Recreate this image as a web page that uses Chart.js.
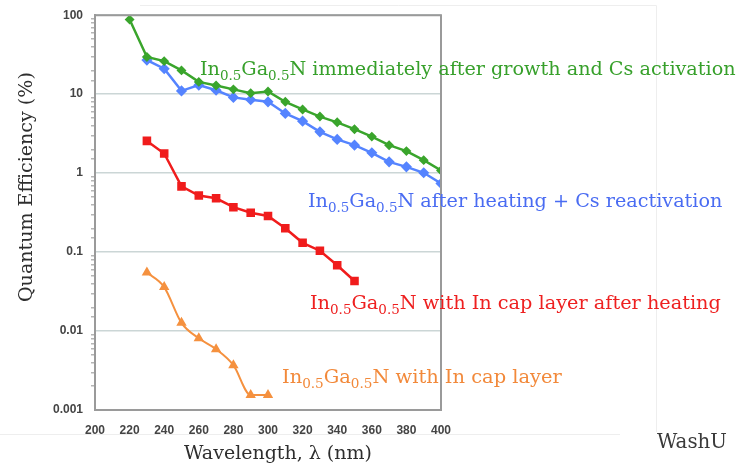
<!DOCTYPE html>
<html><head><meta charset="utf-8">
<script src="https://cdn.jsdelivr.net/npm/chart.js@4/dist/chart.umd.min.js"></script>
<style>html,body{margin:0;padding:0;background:#fff}#wrap{width:737px;height:468px;position:relative}</style>
</head><body><div id="wrap"><canvas id="c" width="737" height="468"></canvas></div>
<script>
// ---- data ----
const wlGrowth = [220,230,240,250,260,270,280,290,300,310,320,330,340,350,360,370,380,390,400];
const qeGrowth = [88,29.6,26.2,20,14.3,12.9,11.5,10.3,10.8,8.0,6.4,5.2,4.4,3.6,2.9,2.26,1.9,1.46,1.08];
const wlReact = [230,240,250,260,270,280,290,300,310,320,330,340,350,360,370,380,390,400];
const qeReact = [27,21,11,13,11.2,9.1,8.5,8.0,5.7,4.55,3.33,2.67,2.26,1.81,1.39,1.2,1.01,0.74];
const wlCapHeat = [230,240,250,260,270,280,290,300,310,320,330,340,350];
const qeCapHeat = [2.56,1.77,0.68,0.52,0.48,0.37,0.315,0.286,0.20,0.131,0.104,0.068,0.043];
const wlCap = [230,240,250,260,270,280,290,300];
const qeCap = [0.055,0.036,0.0127,0.0081,0.0059,0.0037,0.00155,0.00155];
const seriesLabels = [
  'In_{0.5}Ga_{0.5}N immediately after growth and Cs activation',
  'In_{0.5}Ga_{0.5}N after heating + Cs reactivation',
  'In_{0.5}Ga_{0.5}N with In cap layer after heating',
  'In_{0.5}Ga_{0.5}N with In cap layer'
];
const xTicks = [200,220,240,260,280,300,320,340,360,380,400];
const yTickLabels = ['0.001','0.01','0.1','1','10','100'];
const xTitle = 'Wavelength, λ (nm)';
const yTitle = 'Quantum Efficiency (%)';
const credit = 'WashU';

// ---- styles ----
const COLORS = ['#3aa52c','#5584ff','#f01c1c','#f5913f'];
const TEXT_COLORS = ['#37a02b','#4a6cf2','#ee2020','#f2893a'];
const SERIF = '"DejaVu Serif", "Liberation Serif", serif';
const TICK_FONT = {family:'"Liberation Sans", Arial, sans-serif', size:12, weight:'bold'};

function pts(xs, ys){ return xs.map((x,i)=>({x, y: ys[i]})); }

function segs(str){
  const out=[]; const re=/_\{([^}]*)\}/g; let last=0, m;
  while((m=re.exec(str))){ if(m.index>last) out.push({t:str.slice(last,m.index),sub:false}); out.push({t:m[1],sub:true}); last=re.lastIndex; }
  if(last<str.length) out.push({t:str.slice(last),sub:false});
  return out;
}
function measureParts(ctx, parts, size, weight){
  let w=0; for(const p of parts){ ctx.font = `${weight} ${p.sub?size*0.7:size}px ${SERIF}`; w+=ctx.measureText(p.t).width; } return w;
}
function drawRich(ctx, str, x, y, width, color, weight, rotate){
  const parts = segs(str);
  const size = 20*width/measureParts(ctx, parts, 20, weight);
  ctx.save();
  ctx.translate(x,y);
  if(rotate) ctx.rotate(-Math.PI/2);
  ctx.fillStyle = color; ctx.textBaseline='alphabetic'; ctx.textAlign='left';
  let cx=0;
  for(const p of parts){
    const s = p.sub?size*0.7:size;
    ctx.font = `${weight} ${s}px ${SERIF}`;
    ctx.fillText(p.t, cx, p.sub? size*0.28 : 0);
    cx += ctx.measureText(p.t).width;
  }
  ctx.restore();
}

const isDecade = v => Math.abs(Math.log10(v) - Math.round(Math.log10(v))) < 1e-6;

const deco = {
  id:'deco',
  beforeDraw(chart){
    const c = chart.ctx;
    c.save();
    c.strokeStyle = '#eeeeee'; c.lineWidth = 1;
    c.beginPath();
    c.moveTo(140,5.5); c.lineTo(656.5,5.5); c.lineTo(656.5,432);
    c.moveTo(0,434.5); c.lineTo(620,434.5);
    c.stroke();
    c.restore();
  },
  afterDatasetsDraw(chart){
    const c = chart.ctx, a = chart.chartArea;
    c.save();
    c.strokeStyle = '#9a9a9a'; c.lineWidth = 2;
    c.beginPath(); c.moveTo(a.left, a.top); c.lineTo(a.right, a.top); c.lineTo(a.right, a.bottom); c.stroke();
    c.restore();
  },
  afterDraw(chart){
    const c = chart.ctx;
    drawRich(c, seriesLabels[0], 200, 75, 536, TEXT_COLORS[0], 'normal');
    drawRich(c, seriesLabels[1], 308, 207, 415, TEXT_COLORS[1], 'normal');
    drawRich(c, seriesLabels[2], 310, 309, 411, TEXT_COLORS[2], 'normal');
    drawRich(c, seriesLabels[3], 282, 383, 280, TEXT_COLORS[3], 'normal');
    drawRich(c, yTitle, 32, 302, 230, '#2e2e2e', 'normal', true);
    drawRich(c, xTitle, 184, 459, 188, '#2e2e2e', 'normal');
    drawRich(c, credit, 657, 448, 70, '#3a3a3a', 'normal');
  }
};

new Chart(document.getElementById('c').getContext('2d'), {
  type:'line',
  data:{ datasets:[
    {data:pts(wlGrowth,qeGrowth), borderColor:COLORS[0], backgroundColor:COLORS[0], borderWidth:2.5, pointStyle:'rectRot', pointRadius:3.2, tension:0},
    {data:pts(wlReact,qeReact), borderColor:COLORS[1], backgroundColor:COLORS[1], borderWidth:2.5, pointStyle:'rectRot', pointRadius:3.8, tension:0},
    {data:pts(wlCapHeat,qeCapHeat), borderColor:COLORS[2], backgroundColor:COLORS[2], borderWidth:2.5, pointStyle:'rect', pointRadius:4.3, tension:0},
    {data:pts(wlCap,qeCap), borderColor:COLORS[3], backgroundColor:COLORS[3], borderWidth:2, pointStyle:'triangle', pointRadius:4, cubicInterpolationMode:'monotone'}
  ]},
  options:{
    responsive:false, animation:false,
    layout:{padding:{top:15,right:296,left:0,bottom:0}},
    plugins:{legend:{display:false}, tooltip:{enabled:false}},
    scales:{
      x:{type:'linear', min:200, max:400,
        afterBuildTicks: s => { s.ticks = xTicks.map(v=>({value:v})); },
        ticks:{font:TICK_FONT, color:'#444', padding:5, maxRotation:0},
        grid:{display:false},
        border:{color:'#9a9a9a', width:2},
        afterFit: s => { s.height = 58; }
      },
      y:{type:'logarithmic', min:0.001, max:100,
        afterFit: s => { s.width = 95; },
        ticks:{autoSkip:false, font:TICK_FONT, color:'#444', padding:8,
          callback: v => isDecade(v) ? yTickLabels[Math.round(Math.log10(v))+3] : ''},
        grid:{color: c => (c.tick && isDecade(c.tick.value)) ? '#cbd6d6' : 'rgba(0,0,0,0)',
              tickColor: c => (c.tick && isDecade(c.tick.value)) ? 'rgba(0,0,0,0)' : '#b5b5b5',
              lineWidth:1.5, tickLength:4},
        border:{color:'#9a9a9a', width:2}
      }
    }
  },
  plugins:[deco]
});
</script></body></html>
